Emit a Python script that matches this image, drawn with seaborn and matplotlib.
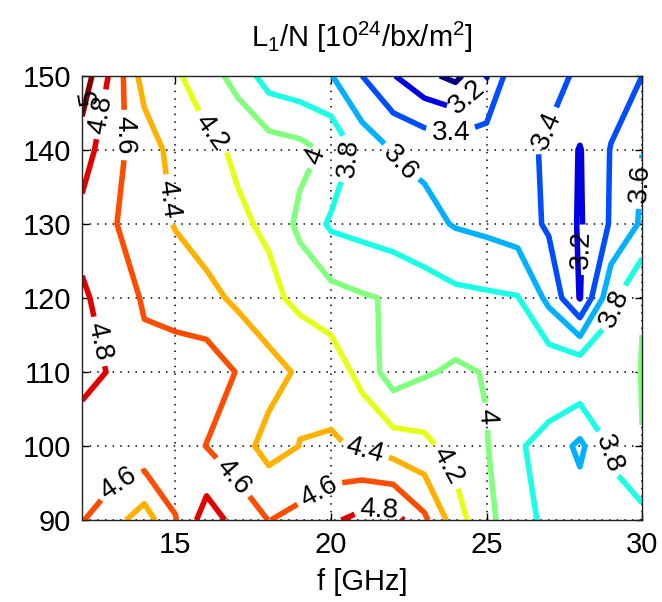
import numpy as np
import matplotlib
matplotlib.use("Agg")
import matplotlib.pyplot as plt
from matplotlib.colors import LinearSegmentedColormap, Normalize
import seaborn as sns

# Frequency axis [GHz] and second scan axis
freq_ghz = [12, 13, 14, 15, 16, 17, 18, 19, 20, 21, 22, 23, 24, 25, 26, 27, 28, 29, 30]
y_vals = [90, 100, 110, 120, 130, 140, 150]

# L1/N values [1e24 / bx / m^2], one list per y value
row_090 = [4.61, 4.47, 4.30, 4.59, 4.90, 4.73, 4.596, 4.66, 4.77, 4.86, 4.88, 4.64, 4.30, 4.03, 3.93, 3.72, 3.708, 3.75, 3.74]
row_100 = [4.64, 4.75, 4.75, 4.72, 4.595, 4.485, 4.33, 4.403, 4.42, 4.38, 4.30, 4.25, 4.12, 4.01, 3.824, 3.726, 3.558, 3.82, 3.998]
row_110 = [4.90, 4.77, 4.65, 4.72, 4.71, 4.59, 4.48, 4.37, 4.33, 4.13, 3.90, 3.98, 4.03, 3.99, 3.93, 3.95, 3.98, 3.92, 4.005]
row_120 = [4.83, 4.71, 4.58, 4.50, 4.46, 4.36, 4.25, 4.15, 4.07, 4.02, 3.98, 3.90, 3.85, 3.83, 3.81, 3.55, 3.19, 3.75, 3.995]
row_130 = [4.73, 4.615, 4.49, 4.39, 4.30, 4.23, 4.17, 3.95, 3.77, 3.73, 3.69, 3.66, 3.585, 3.55, 3.50, 3.37, 3.18, 3.42, 3.63]
row_140 = [4.90, 4.65, 4.52, 4.32, 4.25, 4.17, 4.10, 4.06, 3.96, 3.72, 3.59, 3.55, 3.52, 3.52, 3.50, 3.35, 3.19, 3.41, 3.598]
row_150 = [5.12, 4.74, 4.31, 4.23, 4.09, 3.93, 3.71, 3.66, 3.61, 3.40, 3.21, 3.05, 2.95, 3.19, 3.57, 3.50, 3.35, 3.30, 3.40]

levels = [3.0, 3.2, 3.4, 3.6, 3.8, 4.0, 4.2, 4.4, 4.6, 4.8, 5.0]

# Where the inline contour labels sit, per level
label_spots = {
    4.8: [(12.62, 144.8), (12.3, 113.9), (21.55, 91.3)],
    4.6: [(13.35, 142.0), (16.75, 95.4), (19.7, 93.3), (13.3, 94.0)],
    4.4: [(14.6, 133.2), (21.0, 98.3)],
    4.2: [(16.0, 141.8), (23.7, 97.2)],
    4.0: [(19.55, 139.1), (24.9, 104.0)],
    3.8: [(20.8, 138.6), (29.3, 118.4), (28.9, 99.0)],
    3.6: [(22.2, 138.2), (29.7, 135.5)],
    3.4: [(23.9, 143.1), (27.1, 142.3)],
    3.2: [(24.25, 147.7), (28.2, 126.5)],
}
# The short corner contour of the top level gets a plain text label
corner_level = 5.0
corner_spot = (12.25, 147.2)

sns.set_style("ticks")
plt.rcParams["font.family"] = ["Liberation Sans", "DejaVu Sans"]
plt.rcParams["mathtext.fontset"] = "custom"
plt.rcParams["mathtext.rm"] = "Liberation Sans"

# Classic piecewise-linear jet (MATLAB flavour)
jet_classic = LinearSegmentedColormap("jet_classic", {
    "red":   [(0.0, 0.0, 0.0), (0.375, 0.0, 0.0), (0.625, 1.0, 1.0),
              (0.875, 1.0, 1.0), (1.0, 0.5, 0.5)],
    "green": [(0.0, 0.0, 0.0), (0.125, 0.0, 0.0), (0.375, 1.0, 1.0),
              (0.625, 1.0, 1.0), (0.875, 0.0, 0.0), (1.0, 0.0, 0.0)],
    "blue":  [(0.0, 0.5, 0.5), (0.125, 1.0, 1.0), (0.375, 1.0, 1.0),
              (0.625, 0.0, 0.0), (1.0, 0.0, 0.0)],
})
norm = Normalize(vmin=3.0, vmax=5.0)

Z = np.array([row_090, row_100, row_110, row_120, row_130, row_140, row_150])
X, Y = np.meshgrid(freq_ghz, y_vals)

fig = plt.figure(figsize=(6.62, 6.02), dpi=100)
ax = fig.add_axes([0.124, 0.136, 0.846, 0.738])

# One contour set per level so each level gets its own labels
for lvl in levels:
    cs = ax.contour(X, Y, Z, levels=[lvl], colors=[jet_classic(norm(lvl))],
                    linewidths=4.0)
    spots = label_spots.get(lvl)
    if spots:
        texts = ax.clabel(cs, manual=spots, inline=True, inline_spacing=6,
                          fontsize=20, colors="black", fmt=lambda v: f"{v:g}")
        for t in texts:
            t.set_clip_on(False)

ax.text(corner_spot[0], corner_spot[1], f"{corner_level:g}", fontsize=20,
        color="black", rotation=100, ha="center", va="center", zorder=4)

ax.set_xlim(12, 30)
ax.set_ylim(90, 150)
ax.set_xticks([15, 20, 25, 30])
ax.set_yticks([90, 100, 110, 120, 130, 140, 150])
ax.grid(True, linestyle=(0, (1, 4)), color="black", linewidth=1.1)
ax.set_axisbelow(True)
ax.tick_params(direction="in", length=5, width=1, top=True, right=True,
               labelsize=21, colors="black", pad=8)
for sp in ax.spines.values():
    sp.set_color("#222222")
    sp.set_linewidth(1.0)

ax.set_xlabel("f [GHz]", fontsize=21, color="black", labelpad=6)
ax.set_title(r"L$_\mathregular{1}$/N [10$^\mathregular{24}$/bx/m$^\mathregular{2}$]",
             fontsize=21, color="black", pad=21)

fig.savefig("out.png", dpi=100, facecolor="white")
